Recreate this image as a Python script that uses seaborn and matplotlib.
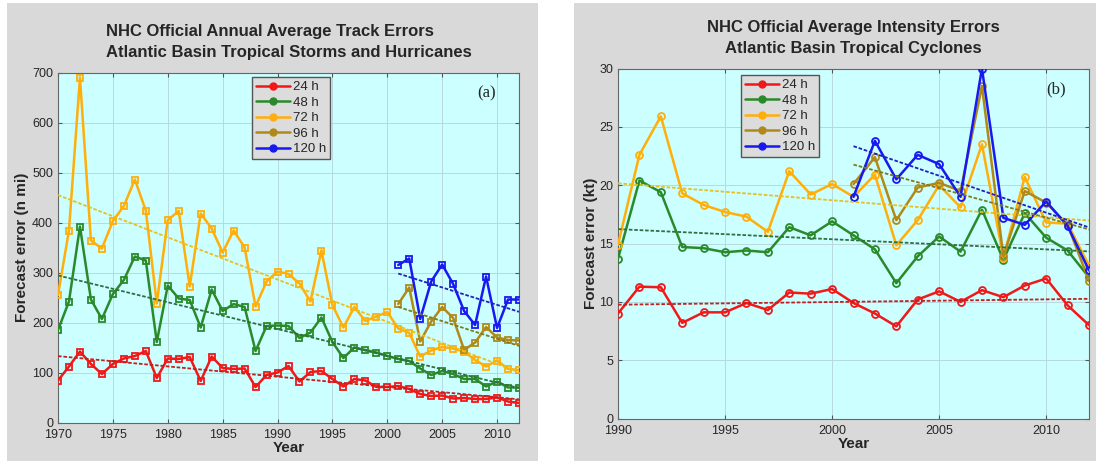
import numpy as np
import pandas as pd
import matplotlib
matplotlib.use("Agg")
import matplotlib.pyplot as plt
from matplotlib.lines import Line2D
from matplotlib.patches import Rectangle
import seaborn as sns

# data
track_years = list(range(1970, 2013))
late_years = list(range(2001, 2013))
track_24 = [84, 112, 142, 117, 97, 117, 128, 133, 143, 89, 128, 127, 131, 83, 132, 109, 107, 108, 71, 95,
            100, 113, 82, 101, 103, 87, 72, 87, 84, 71, 71, 73, 67, 57, 53, 54, 48, 49, 47, 47, 50, 42, 39]
track_48 = [185, 242, 392, 246, 207, 257, 285, 332, 324, 161, 274, 248, 245, 190, 266, 223, 237, 231, 143, 193,
            194, 193, 169, 180, 210, 161, 129, 150, 145, 140, 133, 127, 123, 108, 95, 103, 97, 87, 87, 72, 82, 70, 70]
track_72 = [255, 384, 690, 364, 348, 403, 433, 486, 424, 238, 405, 423, 272, 418, 388, 340, 384, 350, 232, 282,
            302, 297, 278, 242, 344, 235, 190, 231, 203, 212, 221, 188, 179, 132, 144, 151, 148, 142, 125, 112,
            124, 107, 105]
track_96 = [237, 270, 162, 202, 231, 209, 145, 160, 191, 170, 165, 164]
track_120 = [315, 328, 207, 282, 316, 277, 223, 195, 292, 189, 246, 246]

int_years = list(range(1990, 2013))
int_24 = [9.0, 11.3, 11.25, 8.2, 9.1, 9.1, 9.9, 9.3, 10.8, 10.7, 11.1, 9.9, 9.0, 7.9, 10.2, 10.9, 10.0, 11.0,
          10.4, 11.4, 12.0, 9.7, 8.0]
int_48 = [13.7, 20.4, 19.4, 14.7, 14.6, 14.25, 14.4, 14.25, 16.4, 15.7, 16.9, 15.7, 14.5, 11.6, 13.9, 15.6, 14.3,
          17.9, 13.6, 17.6, 15.5, 14.4, 12.1]
int_72 = [14.9, 22.6, 25.9, 19.3, 18.3, 17.7, 17.3, 16.0, 21.2, 19.2, 20.1, 19.0, 20.9, 14.85, 17.0, 20.0, 18.1,
          23.5, 13.8, 20.7, 16.8, 16.7, 13.1]
int_96 = [20.1, 22.4, 17.0, 19.8, 20.2, 19.5, 28.5, 13.9, 19.5, 18.5, 16.6, 11.8]
int_120 = [19.0, 23.8, 20.5, 22.6, 21.8, 19.0, 30.0, 17.2, 16.6, 18.6, 16.5, 12.7]

labels = ["24 h", "48 h", "72 h", "96 h", "120 h"]
colors = ["#f01818", "#2a8a2a", "#ffae0a", "#b08a18", "#1818f0"]
trend_colors = ["#c02020", "#2f6f3f", "#e8c020", "#7f7a20", "#2020c0"]

sns.set_style("ticks")
plt.rcParams["font.family"] = ["Liberation Sans", "DejaVu Sans"]

fig = plt.figure(figsize=(10.96, 4.63), dpi=100)
fig.patch.set_facecolor("white")
W, H = 1096, 463
# grey panels behind each chart
fig.patches.append(Rectangle((7 / W, 1 - 461 / H), 531 / W, 458 / H, transform=fig.transFigure,
                             facecolor="#d9d9d9", edgecolor="none", zorder=-10))
fig.patches.append(Rectangle((574 / W, 1 - 461 / H), 522 / W, 458 / H, transform=fig.transFigure,
                             facecolor="#d9d9d9", edgecolor="none", zorder=-10))

ax1 = fig.add_axes([58 / W, 1 - 422.5 / H, 461 / W, 350 / H])
ax2 = fig.add_axes([618 / W, 1 - 418.5 / H, 471 / W, 350 / H])


def draw_panel(ax, series, marker, leg_xy):
    for (x, y), c, tc in zip(series, colors, trend_colors):
        sns.lineplot(x=x, y=y, ax=ax, color=c, lw=1.8, marker=marker, markersize=5,
                     markerfacecolor="none", markeredgecolor=c, markeredgewidth=1.3, zorder=3)
        sns.regplot(x=np.array(x), y=np.array(y), ax=ax, scatter=False, ci=None, truncate=True,
                    line_kws=dict(color=tc, lw=1.3, ls=(0, (2, 1)), zorder=4))
    ax.set_facecolor("#ccffff")
    ax.grid(True, color="#b8d8dc", lw=0.7)
    ax.tick_params(direction="in", top=True, right=True, labelsize=9, length=3, color="#555555")
    ax.tick_params(axis="x", pad=5)
    for s in ax.spines.values():
        s.set_color("#666666")
        s.set_linewidth(0.8)
    ax.set_xlabel("Year", fontsize=11, fontweight="bold", labelpad=0)
    handles = [Line2D([], [], color=c, lw=1.8, marker="o", markersize=5, markerfacecolor=c) for c in colors]
    leg = ax.legend(handles, labels, fontsize=9.5, frameon=True, fancybox=False, handlelength=2.6,
                    handletextpad=0.2, borderpad=0.3, labelspacing=0.25, loc="upper left",
                    bbox_to_anchor=(leg_xy[0] / W, 1 - leg_xy[1] / H), bbox_transform=fig.transFigure,
                    borderaxespad=0)
    leg.get_frame().set_facecolor("#dcdcdc")
    leg.get_frame().set_edgecolor("#555555")
    leg.get_frame().set_alpha(1)


track_series = [(track_years, track_24), (track_years, track_48), (track_years, track_72),
                (late_years, track_96), (late_years, track_120)]
draw_panel(ax1, track_series, "s", (252, 77))
ax1.set_xlim(1970, 2012)
ax1.set_ylim(0, 700)
ax1.set_xticks(range(1970, 2011, 5))
ax1.set_yticks(range(0, 701, 100))
ax1.set_ylabel("Forecast error (n mi)", fontsize=11, fontweight="bold", labelpad=2)
ax1.set_title("NHC Official Annual Average Track Errors\nAtlantic Basin Tropical Storms and Hurricanes",
              fontsize=12, fontweight="bold", multialignment="left", linespacing=1.5, pad=11)
ax1.text(0.93, 0.94, "(a)", transform=ax1.transAxes, fontsize=12, family="Liberation Serif",
         ha="center", va="center")

int_series = [(int_years, int_24), (int_years, int_48), (int_years, int_72),
              (late_years, int_96), (late_years, int_120)]
draw_panel(ax2, int_series, "o", (741, 75))
ax2.set_xlim(1990, 2012)
ax2.set_ylim(0, 30)
ax2.set_xticks(range(1990, 2011, 5))
ax2.set_yticks(range(0, 31, 5))
ax2.set_ylabel("Forecast error (kt)", fontsize=11, fontweight="bold", labelpad=1)
ax2.set_title("NHC Official Average Intensity Errors\nAtlantic Basin Tropical Cyclones",
              fontsize=12, fontweight="bold", linespacing=1.5, pad=11)
ax2.text(0.93, 0.94, "(b)", transform=ax2.transAxes, fontsize=12, family="Liberation Serif",
         ha="center", va="center")

fig.savefig("out.png", dpi=100)
